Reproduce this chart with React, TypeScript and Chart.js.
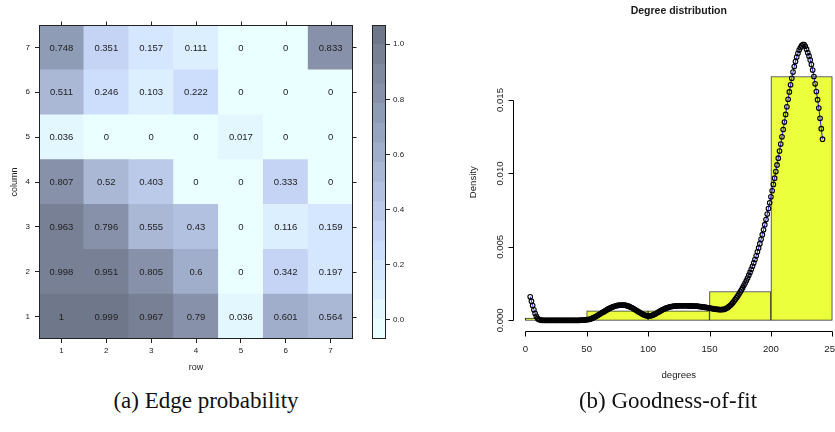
import React, { useEffect, useRef } from "react";
import { Chart, registerables } from "chart.js";

Chart.register(...registerables);

const SANS = '"Liberation Sans", Arial, Helvetica, sans-serif';
const SERIF = '"Liberation Serif", "Times New Roman", serif';

// ---------- (a) Edge probability heatmap ----------
const rowLabels = ["1", "2", "3", "4", "5", "6", "7"];
const columnLevels = [1, 2, 3, 4, 5, 6, 7];
// edgeProbability[k] = values along "row" 1..7 for column level k+1
const edgeProbability = [
  [1, 0.999, 0.967, 0.79, 0.036, 0.601, 0.564],
  [0.998, 0.951, 0.805, 0.6, 0, 0.342, 0.197],
  [0.963, 0.796, 0.555, 0.43, 0, 0.116, 0.159],
  [0.807, 0.52, 0.403, 0, 0, 0.333, 0],
  [0.036, 0, 0, 0, 0.017, 0, 0],
  [0.511, 0.246, 0.103, 0.222, 0, 0, 0],
  [0.748, 0.351, 0.157, 0.111, 0, 0, 0.833],
];
const colorBreaks = [
  -0.07, 0.00125, 0.0725, 0.14375, 0.215, 0.28625, 0.3575, 0.42875, 0.5,
  0.57125, 0.6425, 0.71375, 0.785, 0.85625, 0.9275, 0.99875, 1.07,
];
const bandColors = [
  "#EAFFFF", "#E3F7FF", "#DCEFFF", "#D5E6FF", "#CDDDFC", "#C5D4F4", "#BCCAEA", "#B3C1E0",
  "#AAB8D6", "#A1AECB", "#98A5C0", "#8F9CB5", "#8792AA", "#7F899F", "#778095", "#6F788B",
];
const colorbarTicks = [0, 0.2, 0.4, 0.6, 0.8, 1.0];

// ---------- (b) Degree distribution ----------
const histTicksX = [0, 50, 100, 150, 200, 250];
const histMids = [25, 75, 125, 175, 225];
const histDensity = [0.00016, 0.00064, 0.00064, 0.00196, 0.0166];
const densityTicksY = [0, 0.005, 0.01, 0.015];
const densityCurve: [number, number][] = [
  [4, 0.0016], [5, 0.0013], [6, 0.001], [7, 0.00072], [8, 0.00047], [9, 0.00027], [10, 0.00013], [11, 0.00006], [12, 0.00003], [13, 0.00001],
  [14, 0], [15, 0], [16, 0], [17, 0], [18, 0], [19, 0], [20, 0], [21, 0], [22, 0], [23, 0],
  [24, 0], [25, 0], [26, 0], [27, 0], [28, 0], [29, 0], [30, 0], [31, 0], [32, 0], [33, 0],
  [34, 0], [35, 0], [36, 0], [37, 0], [38, 0], [39, 0], [40, 0], [41, 0], [42, 0], [43, 0],
  [44, 0], [45, 0.00001], [46, 0.00001], [47, 0.00002], [48, 0.00002], [49, 0.00003], [50, 0.00004], [51, 0.00005], [52, 0.00007], [53, 0.00009],
  [54, 0.00012], [55, 0.00016], [56, 0.0002], [57, 0.00024], [58, 0.00029], [59, 0.00034], [60, 0.00039], [61, 0.00044], [62, 0.00049], [63, 0.00054],
  [64, 0.00059], [65, 0.00064], [66, 0.00069], [67, 0.00074], [68, 0.00079], [69, 0.00083], [70, 0.00087], [71, 0.00091], [72, 0.00094], [73, 0.00097],
  [74, 0.00099], [75, 0.00101], [76, 0.00102], [77, 0.00103], [78, 0.00104], [79, 0.00104], [80, 0.00104], [81, 0.00103], [82, 0.00101], [83, 0.00099],
  [84, 0.00096], [85, 0.00093], [86, 0.00089], [87, 0.00085], [88, 0.0008], [89, 0.00075], [90, 0.0007], [91, 0.00065], [92, 0.00059], [93, 0.00054],
  [94, 0.00049], [95, 0.00044], [96, 0.0004], [97, 0.00036], [98, 0.00033], [99, 0.00031], [100, 0.0003], [101, 0.0003], [102, 0.00031], [103, 0.00033],
  [104, 0.00036], [105, 0.0004], [106, 0.00044], [107, 0.00049], [108, 0.00054], [109, 0.00059], [110, 0.00064], [111, 0.00069], [112, 0.00073], [113, 0.00077],
  [114, 0.00081], [115, 0.00084], [116, 0.00087], [117, 0.0009], [118, 0.00092], [119, 0.00094], [120, 0.00095], [121, 0.00096], [122, 0.00097], [123, 0.00098],
  [124, 0.00098], [125, 0.00099], [126, 0.00099], [127, 0.00099], [128, 0.00099], [129, 0.00099], [130, 0.00099], [131, 0.00099], [132, 0.00099], [133, 0.00098],
  [134, 0.00098], [135, 0.00098], [136, 0.00098], [137, 0.00097], [138, 0.00097], [139, 0.00096], [140, 0.00096], [141, 0.00095], [142, 0.00094], [143, 0.00093],
  [144, 0.00092], [145, 0.00091], [146, 0.0009], [147, 0.00088], [148, 0.00087], [149, 0.00085], [150, 0.00084], [151, 0.00082], [152, 0.0008], [153, 0.00079],
  [154, 0.00077], [155, 0.00076], [156, 0.00075], [157, 0.00074], [158, 0.00073], [159, 0.00073], [160, 0.00073], [161, 0.00074], [162, 0.00075], [163, 0.00078],
  [164, 0.00083], [165, 0.00088], [166, 0.00095], [167, 0.00102], [168, 0.00111], [169, 0.0012], [170, 0.00131], [171, 0.00142], [172, 0.00154], [173, 0.00166],
  [174, 0.00179], [175, 0.00193], [176, 0.00207], [177, 0.00222], [178, 0.00238], [179, 0.00254], [180, 0.00271], [181, 0.00288], [182, 0.00307], [183, 0.00326],
  [184, 0.00347], [185, 0.00368], [186, 0.00391], [187, 0.00414], [188, 0.00439], [189, 0.00466], [190, 0.00493], [191, 0.00522], [192, 0.00552], [193, 0.00583],
  [194, 0.00616], [195, 0.00651], [196, 0.00686], [197, 0.00723], [198, 0.00761], [199, 0.008], [200, 0.00841], [201, 0.00882], [202, 0.00925], [203, 0.00968],
  [204, 0.01013], [205, 0.01058], [206, 0.01104], [207, 0.01152], [208, 0.012], [209, 0.01249], [210, 0.01299], [211, 0.0135], [212, 0.01402], [213, 0.01454],
  [214, 0.01505], [215, 0.01555], [216, 0.01603], [217, 0.01648], [218, 0.0169], [219, 0.01728], [220, 0.01762], [221, 0.01792], [222, 0.01818], [223, 0.0184],
  [224, 0.01857], [225, 0.0187], [226, 0.01878], [227, 0.01878], [228, 0.01866], [229, 0.01846], [230, 0.01822], [231, 0.018], [232, 0.01773], [233, 0.01741],
  [234, 0.01704], [235, 0.0166], [236, 0.0161], [237, 0.01558], [238, 0.01502], [239, 0.01445], [240, 0.01375], [241, 0.01305], [242, 0.01233],
];

function bandIndex(v: number): number {
  for (let k = 0; k < bandColors.length; k++) {
    if (v >= colorBreaks[k] && v < colorBreaks[k + 1]) return k;
  }
  return bandColors.length - 1;
}

const INK = "#222";

const latticeFramePlugin = {
  id: "latticeFrame",
  afterDraw(chart: any) {
    const { ctx, chartArea: ca } = chart;
    ctx.save();
    ctx.strokeStyle = INK;
    ctx.lineWidth = 1;
    const l = Math.round(ca.left) + 0.5, r = Math.round(ca.right) - 0.5;
    const t = Math.round(ca.top) + 0.5, b = Math.round(ca.bottom) - 0.5;
    ctx.strokeRect(l, t, r - l, b - t);
    if (chart.options.plugins.latticeFrame?.mirrorTicks) {
      const xs = chart.scales.x, ys = chart.scales.y;
      ctx.beginPath();
      rowLabels.forEach((_, i) => {
        const px = Math.round(xs.getPixelForValue(i)) + 0.5;
        ctx.moveTo(px, t);
        ctx.lineTo(px, t - 4);
      });
      columnLevels.forEach((v) => {
        const py = Math.round(ys.getPixelForValue(v)) + 0.5;
        ctx.moveTo(r, py);
        ctx.lineTo(r + 4, py);
      });
      ctx.stroke();
    }
    ctx.restore();
  },
};

const cellTextPlugin = {
  id: "cellText",
  afterDatasetsDraw(chart: any) {
    const { ctx } = chart;
    ctx.save();
    ctx.font = `9.5px ${SANS}`;
    ctx.fillStyle = INK;
    ctx.textAlign = "center";
    ctx.textBaseline = "middle";
    edgeProbability.forEach((vals, j) => {
      const meta = chart.getDatasetMeta(j);
      meta.data.forEach((el: any, i: number) => {
        const { x, y, base } = el.getProps(["x", "y", "base"], true);
        ctx.fillText(String(vals[i]), x, (y + base) / 2 + 0.5);
      });
    });
    ctx.restore();
  },
};

const rAxesPlugin = {
  id: "rAxes",
  afterDraw(chart: any) {
    const { ctx, chartArea: ca } = chart;
    const xs = chart.scales.x, ys = chart.scales.y;
    ctx.save();
    ctx.strokeStyle = "#000";
    ctx.fillStyle = "#1a1a1a";
    ctx.lineWidth = 1;
    // x axis
    const axY = Math.round(ca.bottom) + 0.5;
    ctx.beginPath();
    ctx.moveTo(Math.round(xs.getPixelForValue(histTicksX[0])) + 0.5, axY);
    ctx.lineTo(Math.round(xs.getPixelForValue(histTicksX[histTicksX.length - 1])) + 0.5, axY);
    histTicksX.forEach((v) => {
      const px = Math.round(xs.getPixelForValue(v)) + 0.5;
      ctx.moveTo(px, axY);
      ctx.lineTo(px, axY + 5);
    });
    // y axis
    const axX = Math.round(ca.left) + 0.5;
    ctx.moveTo(axX, Math.round(ys.getPixelForValue(densityTicksY[0])) + 0.5);
    ctx.lineTo(axX, Math.round(ys.getPixelForValue(densityTicksY[densityTicksY.length - 1])) + 0.5);
    densityTicksY.forEach((v) => {
      const py = Math.round(ys.getPixelForValue(v)) + 0.5;
      ctx.moveTo(axX, py);
      ctx.lineTo(axX - 5, py);
    });
    ctx.stroke();

    ctx.font = `9.6px ${SANS}`;
    ctx.textAlign = "center";
    ctx.textBaseline = "middle";
    histTicksX.forEach((v) => ctx.fillText(String(v), xs.getPixelForValue(v), axY + 17.5));
    densityTicksY.forEach((v) => {
      ctx.save();
      ctx.translate(axX - 13.5, ys.getPixelForValue(v));
      ctx.rotate(-Math.PI / 2);
      ctx.fillText(v.toFixed(3), 0, 0);
      ctx.restore();
    });
    const cx = (ca.left + ca.right) / 2;
    const cy = (ca.top + ca.bottom) / 2;
    ctx.fillText("degrees", cx, axY + 43.5);
    ctx.save();
    ctx.translate(ca.left - 39.7, cy);
    ctx.rotate(-Math.PI / 2);
    ctx.fillText("Density", 0, 0);
    ctx.restore();
    ctx.font = `bold 10.5px ${SANS}`;
    ctx.fillText("Degree distribution", cx, 11);
    ctx.restore();
  },
};

function heatmapConfig(): any {
  return {
    type: "bar",
    data: {
      labels: rowLabels,
      datasets: columnLevels.map((lvl, j) => ({
        data: rowLabels.map(() => [lvl - 0.5, lvl + 0.5]),
        backgroundColor: edgeProbability[j].map((v) => bandColors[bandIndex(v)]),
        borderWidth: 0,
        grouped: false,
        barPercentage: 1,
        categoryPercentage: 1,
      })),
    },
    options: {
      responsive: false,
      animation: false,
      devicePixelRatio: 1,
      layout: { padding: { top: 25, right: 9, left: 0, bottom: 0 } },
      plugins: { legend: { display: false }, tooltip: { enabled: false }, latticeFrame: { mirrorTicks: true } },
      scales: {
        x: {
          type: "category",
          offset: true,
          grid: { offset: false, drawOnChartArea: false, drawTicks: true, tickLength: 4, color: INK },
          border: { display: false },
          ticks: { font: { family: SANS, size: 8 }, color: INK, padding: 3, maxRotation: 0, autoSkip: false },
          title: { display: true, text: "row", font: { family: SANS, size: 9 }, color: INK, padding: { top: 0, bottom: 7 } },
          afterFit: (s: any) => { s.height = 41; },
        },
        y: {
          type: "linear",
          min: 0.5,
          max: 7.5,
          afterBuildTicks: (s: any) => { s.ticks = columnLevels.map((v) => ({ value: v })); },
          grid: { drawOnChartArea: false, drawTicks: true, tickLength: 4, color: INK },
          border: { display: false },
          ticks: { font: { family: SANS, size: 8 }, color: INK, padding: 5 },
          title: { display: true, text: "column", font: { family: SANS, size: 9 }, color: INK, padding: { top: 9, bottom: 0 } },
          afterFit: (s: any) => { s.width = 39; },
        },
      },
    },
    plugins: [cellTextPlugin, latticeFramePlugin],
  };
}

function colorbarConfig(): any {
  return {
    type: "bar",
    data: {
      labels: [""],
      datasets: bandColors.map((c, k) => ({
        data: [[colorBreaks[k], colorBreaks[k + 1]]],
        backgroundColor: c,
        borderWidth: 0,
        grouped: false,
        barPercentage: 1,
        categoryPercentage: 1,
      })),
    },
    options: {
      responsive: false,
      animation: false,
      devicePixelRatio: 1,
      layout: { padding: { top: 25, left: 10, right: 0, bottom: 41 } },
      plugins: { legend: { display: false }, tooltip: { enabled: false } },
      scales: {
        x: { display: false },
        y: {
          position: "right",
          min: colorBreaks[0],
          max: colorBreaks[colorBreaks.length - 1],
          afterBuildTicks: (s: any) => { s.ticks = colorbarTicks.map((v) => ({ value: v })); },
          grid: { drawOnChartArea: false, drawTicks: true, tickLength: 4, color: INK },
          border: { display: false },
          ticks: { font: { family: SANS, size: 8 }, color: INK, padding: 3, callback: (v: any) => Number(v).toFixed(1) },
          afterFit: (s: any) => { s.width = 26; },
        },
      },
    },
    plugins: [latticeFramePlugin],
  };
}

function histogramConfig(): any {
  return {
    type: "bar",
    data: {
      datasets: [
        {
          type: "line",
          data: densityCurve.map(([x, y]) => ({ x, y })),
          borderColor: "#1f1fff",
          borderWidth: 1,
          pointRadius: 2.3,
          pointBorderColor: "#000",
          pointBackgroundColor: "rgba(0,0,0,0)",
          pointBorderWidth: 1.1,
          tension: 0,
          order: 0,
        },
        {
          type: "bar",
          data: histMids.map((x, i) => ({ x, y: histDensity[i] })),
          backgroundColor: "#ecff3c",
          borderColor: "#333",
          borderWidth: 1,
          borderSkipped: false,
          barPercentage: 1,
          categoryPercentage: 1,
          order: 1,
        },
      ],
    },
    options: {
      responsive: false,
      animation: false,
      devicePixelRatio: 1,
      layout: { padding: { left: 93.02, right: 15.4, top: 33, bottom: 100.65 } },
      plugins: { legend: { display: false }, tooltip: { enabled: false } },
      scales: {
        x: {
          type: "linear",
          min: -10,
          max: 260,
          offset: false,
          display: false,
          afterBuildTicks: (s: any) => { s.ticks = histTicksX.map((v) => ({ value: v })); },
        },
        y: {
          type: "linear",
          min: -0.000752,
          max: 0.019562,
          display: false,
        },
      },
    },
    plugins: [rAxesPlugin],
  };
}

function ChartCanvas(props: { left: number; top: number; width: number; height: number; make: () => any }) {
  const ref = useRef<HTMLCanvasElement>(null);
  useEffect(() => {
    const chart = new Chart(ref.current as HTMLCanvasElement, props.make());
    return () => chart.destroy();
  }, []);
  return (
    <canvas
      ref={ref}
      width={props.width}
      height={props.height}
      style={{ position: "absolute", left: props.left, top: props.top, width: props.width, height: props.height }}
    />
  );
}

const captionStyle = (cx: number): React.CSSProperties => ({
  position: "absolute",
  left: cx,
  top: 401,
  transform: "translate(-50%, -50%)",
  fontFamily: SERIF,
  fontSize: 23,
  color: "#111",
  whiteSpace: "nowrap",
});

export default function App() {
  return (
    <div
      style={{
        position: "fixed",
        left: 0,
        top: 0,
        width: 835,
        height: 432,
        overflow: "hidden",
        background: "#fff",
      }}
    >
      <ChartCanvas left={0} top={0} width={362} height={380} make={heatmapConfig} />
      <ChartCanvas left={362} top={0} width={50} height={380} make={colorbarConfig} />
      <ChartCanvas left={420} top={0} width={440} height={432} make={histogramConfig} />
      <div style={captionStyle(206)}>(a) Edge probability</div>
      <div style={captionStyle(668)}>(b) Goodness-of-fit</div>
    </div>
  );
}
